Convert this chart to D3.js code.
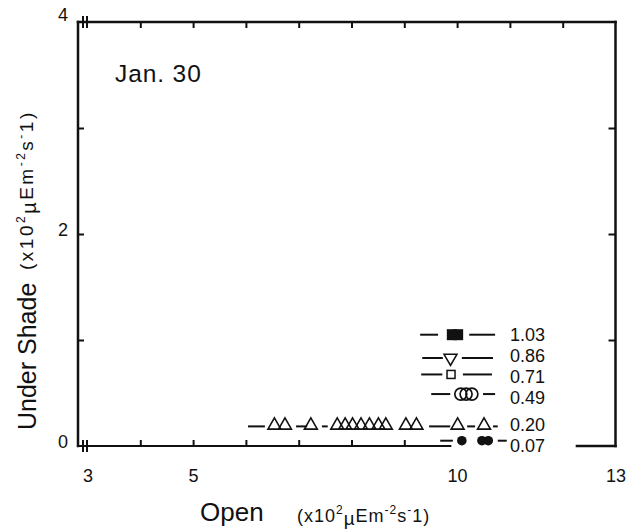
<!DOCTYPE html>
<html><head><meta charset="utf-8">
<script src="https://cdn.jsdelivr.net/npm/d3@7/dist/d3.min.js"></script>
<style>body{margin:0;background:#fff}svg{display:block}</style>
</head><body>
<svg id="c" width="634" height="531"></svg>
<script>
// ---- data ----
const xTickLabels = [3, 5, 10, 13];
const xBottomTicks = [4, 5, 6, 7, 8, 9];
const xTopTicks = [4, 5, 6, 7, 8, 9, 10, 11, 12];
const yTickLabels = [0, 2, 4];
const ySideTicks = [1, 2, 3];
const panelLabel = "Jan. 30";
const rowLabels = ["1.03", "0.86", "0.71", "0.49", "0.20", "0.07"];
const rowY = [1.05, 0.83, 0.675, 0.49, 0.185, 0.05];
const rowSymbols = ["squareFilled", "triangleDown", "squareOpen", "circleOpen", "triangleUp", "circleFilled"];
const rowX = [
  [9.90, 10.02],
  [9.875],
  [9.885],
  [10.07, 10.17, 10.28],
  [6.54, 6.74, 7.23, 7.73, 7.88, 8.02, 8.18, 8.34, 8.51, 8.65, 9.03, 9.23, 10.01, 10.51],
  [10.09, 10.47, 10.59]
];
const rowDashes = [
  [[9.30, 9.64], [10.23, 10.72]],
  [[9.34, 9.73], [10.09, 10.68]],
  [[9.32, 9.72], [10.11, 10.66]],
  [[9.51, 9.87], [10.49, 10.72]],
  [[6.04, 6.36], [6.95, 7.16], [7.44, 7.55], [9.47, 9.87], [10.19, 10.34], [10.68, 10.77]],
  [[9.68, 9.92], [10.77, 10.94]]
];
const axisGap = [9.87, 12.27];

// ---- layout ----
(function () {
const FONT = "'Liberation Sans', Arial, sans-serif";
const svg = d3.select("#c");
const x = d3.scaleLinear().domain([3, 13]).range([87.5, 615.5]);
const y = d3.scaleLinear().domain([0, 4]).range([446, 22]);
const pL = 78, pR = x(13), pT = y(4), pB = y(0);
const ink = "#111";

const g = svg.append("g");

// frame
const frame = g.append("g").attr("stroke", ink).attr("fill", "none").attr("stroke-linecap", "square");
frame.append("line").attr("x1", pL).attr("x2", pL).attr("y1", pT).attr("y2", pB).attr("stroke-width", 2.5);
frame.append("line").attr("x1", pL).attr("x2", pR).attr("y1", pT).attr("y2", pT).attr("stroke-width", 2.5);
frame.append("line").attr("x1", pR).attr("x2", pR).attr("y1", pT).attr("y2", pB).attr("stroke-width", 2.5);
frame.append("line").attr("x1", pL).attr("x2", x(axisGap[0])).attr("y1", pB).attr("y2", pB).attr("stroke-width", 2.2);
frame.append("line").attr("x1", x(axisGap[1])).attr("x2", pR).attr("y1", pB).attr("y2", pB).attr("stroke-width", 2.5);

// break marks
[pT, pB].forEach(yy => {
  [pL + 5, pL + 9].forEach(xx => {
    frame.append("line").attr("x1", xx).attr("x2", xx).attr("y1", yy - 5).attr("y2", yy + 5).attr("stroke-width", 2);
  });
});

// ticks via d3 axes (inward)
function cleanAxis(sel) { sel.select(".domain").remove(); sel.selectAll("line").attr("stroke", ink).attr("stroke-width", 2); }
g.append("g").attr("transform", `translate(0,${pB})`)
  .call(d3.axisBottom(x).tickValues(xBottomTicks).tickSize(-6).tickFormat(""))
  .call(cleanAxis);
g.append("g").attr("transform", `translate(0,${pT})`)
  .call(d3.axisTop(x).tickValues(xTopTicks).tickSize(-6).tickFormat(""))
  .call(cleanAxis);
g.append("g").attr("transform", `translate(${pL},0)`)
  .call(d3.axisLeft(y).tickValues(ySideTicks).tickSize(-6).tickFormat(""))
  .call(cleanAxis);
g.append("g").attr("transform", `translate(${pR},0)`)
  .call(d3.axisRight(y).tickValues(ySideTicks).tickSize(-7).tickFormat(""))
  .call(cleanAxis);

// tick labels
const xl = g.append("g").attr("transform", `translate(0,${pB})`)
  .call(d3.axisBottom(x).tickValues(xTickLabels).tickSize(0).tickPadding(23).tickFormat(d3.format("d")));
xl.select(".domain").remove();
xl.selectAll("text").attr("font-family", FONT).attr("font-size", 18).attr("fill", ink);

const yl = g.append("g").attr("transform", `translate(${pL},0)`)
  .call(d3.axisLeft(y).tickValues(yTickLabels).tickSize(0).tickPadding(10).tickFormat(d3.format("d")));
yl.select(".domain").remove();
yl.selectAll("text").attr("font-family", FONT).attr("font-size", 18).attr("fill", ink).attr("dy", "0.1em");
yl.selectAll(".tick").filter(d => d === 4).select("text").attr("dy", "-0.1em");

// axis titles
function unitText(sel, fs) {
  const sup = Math.round(fs * 0.65);
  sel.append("tspan").text("(x10");
  sel.append("tspan").text("2").attr("font-size", sup).attr("dy", -fs * 0.42);
  sel.append("tspan").text("µ").attr("font-size", fs * 1.05).attr("dy", fs * 0.6);
  sel.append("tspan").text("Em").attr("dy", -fs * 0.18);
  sel.append("tspan").text("-2").attr("font-size", sup).attr("dy", -fs * 0.42);
  sel.append("tspan").text("s").attr("dy", fs * 0.42);
  sel.append("tspan").text("-").attr("font-size", sup).attr("dy", -fs * 0.42);
  sel.append("tspan").text("1)").attr("dy", fs * 0.42);
}
g.append("text").attr("x", 200).attr("y", 521).attr("font-family", FONT).attr("font-size", 26)
  .attr("fill", ink).text("Open");
g.append("text").attr("x", 297).attr("y", 522).attr("font-family", FONT).attr("font-size", 18)
  .attr("letter-spacing", 1).attr("fill", ink).call(unitText, 18);

const yt = g.append("g").attr("transform", "translate(36,0) rotate(-90)");
yt.append("text").attr("x", -430).attr("y", 0).attr("font-family", FONT).attr("font-size", 25)
  .attr("fill", ink).text("Under Shade");
yt.append("text").attr("x", -270).attr("y", -3).attr("font-family", FONT).attr("font-size", 19)
  .attr("letter-spacing", 2.5).attr("fill", ink).call(unitText, 19);

// panel label
g.append("text").attr("x", 115).attr("y", 82).attr("font-family", FONT).attr("font-size", 24.5)
  .attr("letter-spacing", 0.9).attr("fill", ink).text(panelLabel);

// label positions: start at row height, relax so labels do not collide
const labelPos = rowY.map(v => y(v) + 1.5);
const minGap = 21;
for (let it = 0; it < 60; it++) {
  for (let i = 1; i < labelPos.length; i++) {
    const d = labelPos[i] - labelPos[i - 1];
    if (d < minGap) { const s = (minGap - d) / 2; labelPos[i - 1] -= s; labelPos[i] += s; }
  }
}

// rows
const tri = d3.symbol().type(d3.symbolTriangle).size(72);
rowLabels.forEach((lab, i) => {
  const yy = y(rowY[i]);
  const row = g.append("g");
  row.selectAll("line.dash").data(rowDashes[i]).join("line")
    .attr("x1", d => x(d[0])).attr("x2", d => x(d[1]))
    .attr("y1", yy).attr("y2", yy).attr("stroke", ink).attr("stroke-width", 2);
  const pts = row.selectAll("g.pt").data(rowX[i]).join("g")
    .attr("transform", d => `translate(${x(d)},${yy})`);
  const s = rowSymbols[i];
  if (s === "squareFilled") {
    pts.append("rect").attr("x", -5).attr("y", -5.5).attr("width", 10).attr("height", 11).attr("fill", ink);
  } else if (s === "squareOpen") {
    pts.append("rect").attr("x", -4).attr("y", -4).attr("width", 8).attr("height", 8)
      .attr("fill", "#fff").attr("stroke", ink).attr("stroke-width", 1.5);
  } else if (s === "triangleDown") {
    pts.append("path").attr("d", tri).attr("transform", "rotate(180)")
      .attr("fill", "#fff").attr("stroke", ink).attr("stroke-width", 1.6);
  } else if (s === "triangleUp") {
    pts.append("path").attr("d", tri).attr("transform", "translate(0,-1)")
      .attr("fill", "none").attr("stroke", ink).attr("stroke-width", 1.6);
  } else if (s === "circleOpen") {
    pts.append("circle").attr("r", 6).attr("fill", "none").attr("stroke", ink).attr("stroke-width", 1.7);
  } else if (s === "circleFilled") {
    pts.append("circle").attr("r", 4.8).attr("fill", ink);
  }
  row.append("text").attr("x", 510).attr("y", labelPos[i]).attr("dominant-baseline", "central")
    .attr("font-family", FONT).attr("font-size", 18).attr("fill", ink).text(lab);
});
})();
</script>
</body></html>
